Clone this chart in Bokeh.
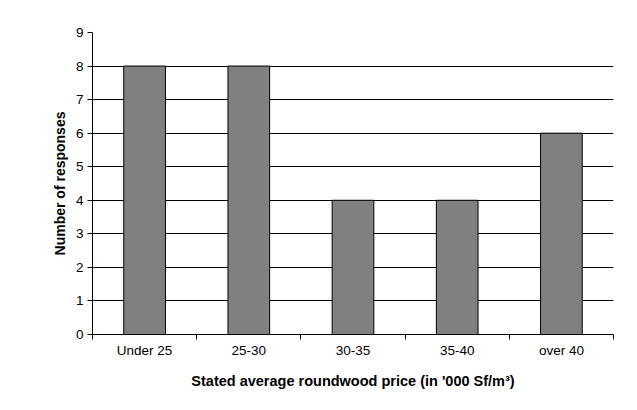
from bokeh.plotting import figure
from bokeh.models import FixedTicker, Range1d, ColumnDataSource
from bokeh.embed import file_html
from bokeh.resources import INLINE

categories = ["Under 25", "25-30", "30-35", "35-40", "over 40"]
responses = [8, 8, 4, 4, 6]
y_ticks = [0, 1, 2, 3, 4, 5, 6, 7, 8, 9]

centers = [i + 0.5 for i in range(len(categories))]
bounds = list(range(len(categories) + 1))

src = ColumnDataSource(dict(x=centers, top=responses, cat=categories))

p = figure(width=621, height=394, output_backend="svg", toolbar_location=None,
           x_range=Range1d(0, len(categories)), y_range=Range1d(0, 9),
           min_border_left=92, min_border_right=8, min_border_top=32, min_border_bottom=60)

p.vbar(x="x", top="top", width=0.4, source=src, fill_color="#808080",
       line_color="black", line_width=1)

p.outline_line_color = None
p.background_fill_color = "white"
p.border_fill_color = "white"

p.xgrid.visible = False
p.ygrid.ticker = FixedTicker(ticks=y_ticks)
p.ygrid.grid_line_color = "black"
p.ygrid.grid_line_alpha = 1.0

font = "Liberation Sans"

xa = p.xaxis[0]
xa.ticker = FixedTicker(ticks=centers, minor_ticks=bounds)
xa.major_label_overrides = {c: lab for c, lab in zip(centers, categories)}
xa.major_tick_out = 0
xa.major_tick_in = 0
xa.minor_tick_out = 5
xa.minor_tick_in = 0
xa.minor_tick_line_color = "black"
xa.axis_line_color = "black"
xa.major_label_text_font = font
xa.major_label_text_font_size = "13.5px"
xa.major_label_text_color = "black"
xa.major_label_standoff = 3
xa.axis_label = "Stated average roundwood price (in '000 Sf/m\u00b3)"
xa.axis_label_text_font = font
xa.axis_label_text_font_size = "14.5px"
xa.axis_label_text_font_style = "bold"
xa.axis_label_text_color = "black"
xa.axis_label_standoff = 12

ya = p.yaxis[0]
ya.ticker = FixedTicker(ticks=y_ticks)
ya.major_tick_out = 5
ya.major_tick_in = 0
ya.minor_tick_out = 0
ya.minor_tick_in = 0
ya.axis_line_color = "black"
ya.major_tick_line_color = "black"
ya.major_label_text_font = font
ya.major_label_text_font_size = "13.5px"
ya.major_label_text_color = "black"
ya.major_label_standoff = 4
ya.axis_label = "Number of responses"
ya.axis_label_text_font = font
ya.axis_label_text_font_size = "14px"
ya.axis_label_text_font_style = "bold"
ya.axis_label_text_color = "black"
ya.axis_label_standoff = 5

open("out.html", "w").write(file_html(p, INLINE))
